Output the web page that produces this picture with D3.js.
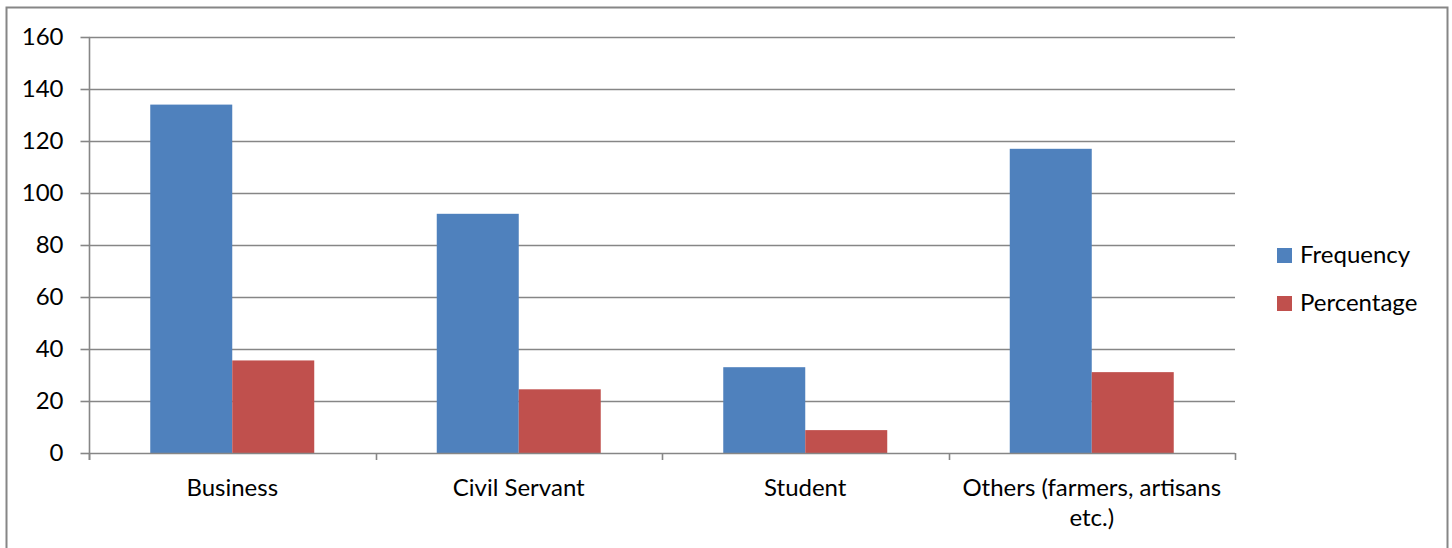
<!DOCTYPE html>
<html>
<head>
<meta charset="utf-8">
<script src="https://cdn.jsdelivr.net/npm/d3@7"></script>
<style>
  html, body { margin: 0; padding: 0; background: #fff; }
  svg { display: block; }
  text { font-family: Lato, "Open Sans", sans-serif; fill: #000; }
</style>
</head>
<body>
<svg id="chart" width="1452" height="548"></svg>
<script>
// Occupation of respondents
const categories = ["Business", "Civil Servant", "Student", "Others (farmers, artisans etc.)"];
const categoryLines = [["Business"], ["Civil Servant"], ["Student"], ["Others (farmers, artisans", "etc.)"]];
const seriesNames = ["Frequency", "Percentage"];
const frequency = [134, 92, 33, 117];
const percentage = [35.6, 24.5, 8.8, 31.1];
const yTicks = [0, 20, 40, 60, 80, 100, 120, 140, 160];
const colors = ["#4F81BD", "#C0504D"];

const svg = d3.select("#chart");
const plot = { left: 89, right: 1235, top: 37, bottom: 453 };
const fontSize = 24;

// outer chart frame
svg.append("rect")
  .attr("x", 6.5).attr("y", 7.5)
  .attr("width", 1441).attr("height", 560)
  .attr("fill", "#fff").attr("stroke", "#868686").attr("stroke-width", 2);

const y = d3.scaleLinear().domain([0, 160]).range([plot.bottom, plot.top]);
const innerPad = 0.4276;
const x = d3.scaleBand().domain(categories).range([plot.left, plot.right])
  .paddingInner(innerPad).paddingOuter(innerPad / 2);
const xs = d3.scaleBand().domain(seriesNames).range([0, x.bandwidth()]);

// horizontal gridlines
svg.append("g").selectAll("line").data(yTicks.filter(d => d > 0)).join("line")
  .attr("x1", plot.left).attr("x2", plot.right)
  .attr("y1", d => Math.round(y(d)) + 0.5).attr("y2", d => Math.round(y(d)) + 0.5)
  .attr("stroke", "#868686").attr("stroke-width", 1.6);

// bars
const series = [frequency, percentage];
const gBars = svg.append("g");
categories.forEach((c, i) => {
  seriesNames.forEach((s, j) => {
    gBars.append("rect")
      .attr("x", x(c) + xs(s))
      .attr("y", y(series[j][i]))
      .attr("width", xs.bandwidth())
      .attr("height", y(0) - y(series[j][i]))
      .attr("fill", colors[j]);
  });
});

// y axis
const yAxis = d3.axisLeft(y).tickValues(yTicks).tickSize(9).tickPadding(17).tickFormat(d3.format("d"));
const gy = svg.append("g").attr("transform", `translate(${plot.left + 0.5},0)`).call(yAxis);
gy.select(".domain").remove();
gy.selectAll(".tick line").attr("stroke", "#868686").attr("stroke-width", 1.6);
gy.selectAll(".tick text").style("font-size", fontSize + "px").style("font-family", "Lato, sans-serif").attr("fill", "#000");
svg.append("line")
  .attr("x1", plot.left + 0.5).attr("x2", plot.left + 0.5)
  .attr("y1", plot.top).attr("y2", plot.bottom + 7)
  .attr("stroke", "#868686").attr("stroke-width", 1.6);

// x axis baseline and category dividers
svg.append("line")
  .attr("x1", plot.left).attr("x2", plot.right)
  .attr("y1", plot.bottom + 0.5).attr("y2", plot.bottom + 0.5)
  .attr("stroke", "#868686").attr("stroke-width", 1.6);
const step = x.step();
const bounds = categories.map(c => x(c) - step * innerPad / 2).concat([plot.right]);
svg.append("g").selectAll("line").data(bounds).join("line")
  .attr("x1", d => Math.round(d) + 0.5).attr("x2", d => Math.round(d) + 0.5)
  .attr("y1", plot.bottom).attr("y2", plot.bottom + 7)
  .attr("stroke", "#868686").attr("stroke-width", 1.6);

// category labels
const gLab = svg.append("g");
categories.forEach((c, i) => {
  const t = gLab.append("text")
    .attr("x", x(c) + x.bandwidth() / 2)
    .attr("y", 496)
    .attr("text-anchor", "middle")
    .style("font-size", fontSize + "px");
  categoryLines[i].forEach((line, k) => {
    t.append("tspan").attr("x", x(c) + x.bandwidth() / 2).attr("dy", k === 0 ? 0 : 30).text(line);
  });
});

// legend
const legend = svg.append("g");
seriesNames.forEach((s, j) => {
  const ly = 248 + j * 48;
  legend.append("rect").attr("x", 1277).attr("y", ly).attr("width", 15).attr("height", 15).attr("fill", colors[j]);
  legend.append("text").attr("x", 1300).attr("y", ly + 15).style("font-size", fontSize + "px").text(s);
});
</script>
</body>
</html>
